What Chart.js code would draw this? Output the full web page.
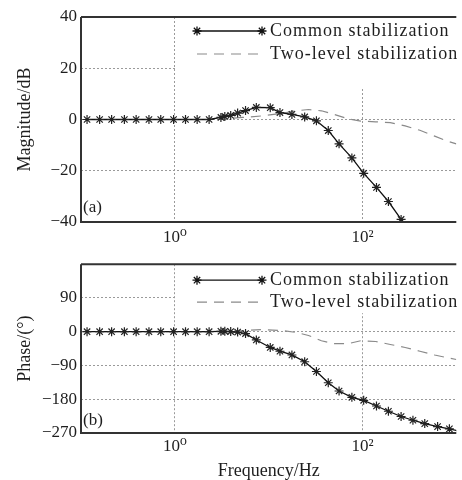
<!DOCTYPE html>
<html>
<head>
<meta charset="utf-8">
<script src="https://cdn.jsdelivr.net/npm/chart.js@4"></script>
<style>
  html, body { margin: 0; padding: 0; background: #fff; }
  .panel { position: absolute; left: 0; width: 462px; }
  #top { top: 0; height: 250px; }
  #bottom { top: 250px; height: 230px; }
</style>
</head>
<body>
<div class="panel" id="top"><canvas id="magChart" width="462" height="250"></canvas></div>
<div class="panel" id="bottom"><canvas id="phaseChart" width="462" height="230"></canvas></div>
<script>
const seriesNames = ['Common stabilization', 'Two-level stabilization'];

// Frequency (Hz) and responses
const commonFreq = [0.116, 0.158, 0.212, 0.29, 0.387, 0.53, 0.708, 0.97, 1.3, 1.73, 2.32,
  3.1, 3.41, 3.94, 4.67, 5.67, 7.39, 10.4, 13.2, 17.7, 24.2, 32.3, 43.2, 56.3, 77.1,
  103, 141, 189, 258, 345, 461, 632, 844, 1130];
const commonMag = [0, 0, 0, 0, 0, 0, 0, 0, 0, 0, 0,
  0.8, 1.2, 1.6, 2.5, 3.5, 4.7, 4.6, 2.7, 2.0, 1.0, -0.5, -4.3, -9.5, -15,
  -21, -26.5, -32, -39, -44, -50, -55, -60, -64];
const commonPhase = [0, 0, 0, 0, 0, 0, 0, 0, 0, 0, 0,
  1, 1, 0.5, -1, -5, -22, -42, -52, -62, -80, -106, -136, -158, -175,
  -183, -198, -212, -226, -236, -245, -253, -259, -266];

const twoLevelFreq = [0.1, 1, 2.88, 5.27, 8.55, 13.9, 19.9, 26.6, 36.5, 49.9, 70, 95.9,
  138, 198, 285, 409, 588, 785, 1000];
const twoLevelMag = [0, 0, 0, 0.8, 1.4, 2.4, 3.4, 3.9, 3.4, 2.0, 0.3, -0.6,
  -0.9, -1.2, -2.5, -4.2, -6.5, -8.3, -9.5];
const twoLevelPhase = [0, 0, 0, 3, 6, 3, -2, -10, -24, -32, -32, -24,
  -26, -34, -42, -52, -62, -69, -74];

const freqTicks = [1, 100];
const freqTickLabels = ['10⁰', '10²'];
const magTicks = [-40, -20, 0, 20, 40];
const phaseTicks = [-270, -180, -90, 0, 90];

const serif = '"Liberation Serif", "DejaVu Serif", serif';
const textColor = '#1e1e1e';

function pts(xs, ys) {
  return xs.map((x, i) => ({ x: x, y: ys[i] }));
}

function drawStar(ctx, x, y, r) {
  ctx.beginPath();
  for (let k = 0; k < 4; k++) {
    const a = k * Math.PI / 4;
    ctx.moveTo(x - Math.cos(a) * r, y - Math.sin(a) * r);
    ctx.lineTo(x + Math.cos(a) * r, y + Math.sin(a) * r);
  }
  ctx.stroke();
}

// white legend box, legend, frame and panel letter
const framePlugin = {
  id: 'frame',
  afterDatasetsDraw(chart, args, opts) {
    const { ctx, chartArea: a } = chart;
    const x = chart.scales.x;
    ctx.save();
    const bx = x.getPixelForValue(freqTicks[0]) + 1;
    ctx.fillStyle = '#fff';
    ctx.fillRect(bx, a.top, a.right - bx, opts.legendBottom);

    const x0 = 197, x1 = 262;
    const y1 = a.top + opts.row1, y2 = a.top + opts.row2;
    ctx.strokeStyle = '#111';
    ctx.lineWidth = 1.3;
    ctx.beginPath(); ctx.moveTo(x0, y1); ctx.lineTo(x1, y1); ctx.stroke();
    drawStar(ctx, x0, y1, 4.5);
    drawStar(ctx, x1, y1, 4.5);
    ctx.strokeStyle = '#8a8a8a';
    ctx.lineWidth = 1.2;
    ctx.setLineDash([10, 7]);
    ctx.beginPath(); ctx.moveTo(x0, y2); ctx.lineTo(x1 - 4, y2); ctx.stroke();
    ctx.setLineDash([]);

    ctx.font = '18px ' + serif;
    ctx.letterSpacing = '1px';
    ctx.fillStyle = textColor;
    ctx.textBaseline = 'middle';
    ctx.textAlign = 'left';
    ctx.fillText(seriesNames[0], 270, y1);
    ctx.fillText(seriesNames[1], 270, y2);

    ctx.font = '17px ' + serif;
    ctx.letterSpacing = '0px';
    ctx.fillText(opts.panelLabel, a.left + 2, a.bottom - opts.labelOffset);

    ctx.strokeStyle = '#333';
    ctx.lineWidth = 2;
    ctx.beginPath();
    ctx.moveTo(a.left, a.top); ctx.lineTo(a.right, a.top);
    ctx.moveTo(a.left, a.top); ctx.lineTo(a.left, a.bottom); ctx.lineTo(a.right, a.bottom);
    ctx.stroke();
    ctx.restore();
  }
};

function makeChart(id, cfg) {
  return new Chart(id, {
    type: 'line',
    data: {
      datasets: [{
        label: seriesNames[0],
        data: pts(commonFreq, cfg.common),
        borderColor: '#111',
        borderWidth: 1.3,
        pointStyle: 'star',
        pointRadius: 4.5,
        pointBorderWidth: 1.2,
        pointBorderColor: '#222',
        pointBackgroundColor: '#222',
        fill: false
      }, {
        label: seriesNames[1],
        data: pts(twoLevelFreq, cfg.twoLevel),
        borderColor: '#8a8a8a',
        borderWidth: 1.2,
        borderDash: [10, 7],
        pointRadius: 0,
        fill: false
      }]
    },
    options: {
      responsive: false,
      animation: false,
      events: [],
      layout: { padding: { top: cfg.top, left: 0, right: 0, bottom: 0 } },
      scales: {
        x: {
          type: 'logarithmic',
          min: 0.1,
          max: 1000,
          afterBuildTicks: (axis) => { axis.ticks = freqTicks.map(v => ({ value: v })); },
          afterFit: (axis) => { axis.height = cfg.xHeight; },
          grid: { color: '#9a9a9a', lineWidth: 1, drawTicks: false },
          border: { display: false, dash: [2, 2] },
          ticks: {
            padding: cfg.xPad,
            maxRotation: 0,
            color: textColor,
            font: { family: serif, size: 17 },
            callback: (v) => freqTickLabels[freqTicks.indexOf(v)]
          },
          title: {
            display: cfg.xTitle !== '',
            text: cfg.xTitle,
            color: textColor,
            padding: { top: 0, bottom: 0 },
            font: { family: serif, size: 18, lineHeight: 1 }
          }
        },
        y: {
          min: cfg.yMin,
          max: cfg.yMax,
          afterBuildTicks: (axis) => { axis.ticks = cfg.yTicks.map(v => ({ value: v })); },
          afterFit: (axis) => { axis.width = 81; },
          grid: { color: '#9a9a9a', lineWidth: 1, drawTicks: false },
          border: { display: false, dash: [2, 2] },
          ticks: {
            padding: 4,
            color: textColor,
            font: { family: serif, size: 17 },
            callback: (v) => (v < 0 ? '\u2212' + Math.abs(v) : String(v))
          },
          title: {
            display: true,
            text: cfg.yTitle,
            color: textColor,
            padding: { top: 14, bottom: 0 },
            font: { family: serif, size: 18, lineHeight: 1.2 }
          }
        }
      },
      plugins: {
        legend: { display: false },
        tooltip: { enabled: false },
        frame: cfg.frame
      }
    },
    plugins: [framePlugin]
  });
}

makeChart('magChart', {
  common: commonMag,
  twoLevel: twoLevelMag,
  top: 17, xHeight: 28, xPad: 5, xTitle: '',
  yMin: -40, yMax: 40, yTicks: magTicks,
  yTitle: 'Magnitude/dB',
  frame: { legendBottom: 71, row1: 14, row2: 37, panelLabel: '(a)', labelOffset: 14 }
});

makeChart('phaseChart', {
  common: commonPhase,
  twoLevel: twoLevelPhase,
  top: 6, xHeight: 47, xPad: 3, xTitle: 'Frequency/Hz',
  yMin: -270, yMax: 180, yTicks: phaseTicks,
  yTitle: 'Phase/(°)',
  frame: { legendBottom: 49, row1: 16, row2: 38, panelLabel: '(b)', labelOffset: 12 }
});
</script>
</body>
</html>
